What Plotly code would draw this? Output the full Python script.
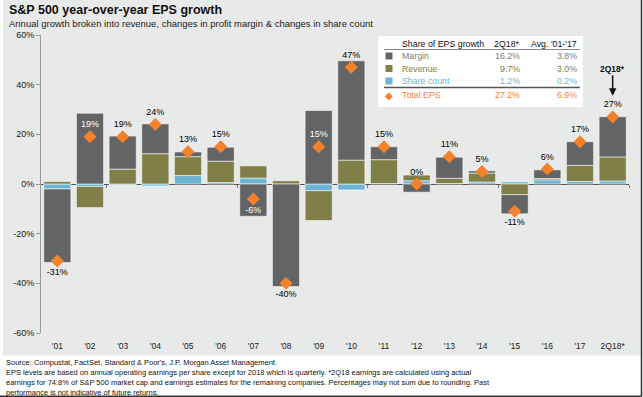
import plotly.graph_objects as go

# ---------------- data ----------------
years = ["'01", "'02", "'03", "'04", "'05", "'06", "'07", "'08", "'09", "'10",
         "'11", "'12", "'13", "'14", "'15", "'16", "'17", "2Q18*"]
margin = [-29.6, 28.5, 13.3, 12.0, 1.9, 5.6, -13.0, -41.3, 29.6, 40.0,
          5.2, -3.3, 8.5, 0.9, -7.7, 3.5, 9.5, 16.2]
revenue = [1.0, -8.5, 6.0, 12.2, 7.6, 8.6, 4.9, 1.3, -12.0, 9.6,
           9.6, 2.3, 2.1, 3.6, -4.3, 0.5, 6.5, 9.7]
share_count = [-2.0, -1.0, -0.3, -0.8, 3.4, 0.6, 2.4, 0.0, -2.7, -2.4,
               0.2, 1.3, 0.2, 0.8, 0.9, 1.7, 1.0, 1.2]
total_eps = [-31, 19, 19, 24, 13, 15, -6, -40, 15, 47,
             15, 0, 11, 5, -11, 6, 17, 27]

table_rows = ["Margin", "Revenue", "Share count", "Total EPS"]
table_2q18 = ["16.2%", "9.7%", "1.2%", "27.2%"]
table_avg = ["3.8%", "3.0%", "0.2%", "6.9%"]

y_ticks = [-60, -40, -20, 0, 20, 40, 60]

footnotes = [
    "Source: Compustat, FactSet, Standard & Poor's, J.P. Morgan Asset Management.",
    "EPS levels are based on annual operating earnings per share except for 2018 which is quarterly. *2Q18 earnings are calculated using actual",
    "earnings for 74.8% of S&P 500 market cap and earnings estimates for the remaining companies. Percentages may not sum due to rounding. Past",
    "performance is not indicative of future returns.",
]

# ---------------- style ----------------
C_MARGIN = "#636466"
C_REV = "#7f7f47"
C_SHARE = "#6db5d3"
C_TOTAL = "#f5822a"
C_BG = "#e8e9e9"
FONT = "Liberation Sans, Arial, sans-serif"

W, H = 643, 397
L, R, T, B = 41, 14, 35, 64
PW, PH = W - L - R, H - T - B


def fx(px):
    return (px - L) / PW


def fy(py):
    return (H - B - py) / PH


fig = go.Figure()
outline = dict(color="rgba(255,255,255,0.55)", width=1)
for name, vals, col in [("Share count", share_count, C_SHARE),
                        ("Revenue", revenue, C_REV),
                        ("Margin", margin, C_MARGIN)]:
    fig.add_trace(go.Bar(x=years, y=vals, name=name, marker_color=col,
                         marker_line=outline, showlegend=False))

# label colours: white when the label sits inside a tall bar
pos_top = []
neg_bot = []
for m, r, s in zip(margin, revenue, share_count):
    pos_top.append(sum(v for v in (m, r, s) if v > 0))
    neg_bot.append(sum(v for v in (m, r, s) if v < 0))
txt_col = []
txt_pos = []
for t, pt, nb in zip(total_eps, pos_top, neg_bot):
    if t >= 0:
        txt_pos.append("top center")
        txt_col.append("white" if pt - t > 4 else "black")
    else:
        txt_pos.append("bottom center")
        txt_col.append("white" if t - nb > 4 else "black")

fig.add_trace(go.Scatter(
    x=years, y=total_eps, mode="markers+text",
    marker=dict(symbol="diamond", size=10, color=C_TOTAL),
    text=[f"{v}%" for v in total_eps], textposition=txt_pos,
    textfont=dict(family=FONT, size=9, color=txt_col),
    showlegend=False, cliponaxis=False))

shapes = []
annotations = []

# gray background + frame
shapes.append(dict(type="rect", xref="paper", yref="paper", layer="below",
                   x0=fx(3), x1=fx(641), y0=fy(355.5), y1=fy(0),
                   fillcolor=C_BG, line_width=0))
shapes.append(dict(type="line", xref="paper", yref="paper",
                   x0=fx(641.5), x1=fx(641.5), y0=fy(0), y1=fy(396.5),
                   line=dict(color="#333", width=1.5)))
shapes.append(dict(type="line", xref="paper", yref="paper",
                   x0=fx(0), x1=fx(641.5), y0=fy(396.2), y1=fy(396.2),
                   line=dict(color="#333", width=1.5)))

# title
annotations.append(dict(text="<b>S&P 500 year-over-year EPS growth</b>", xref="paper", yref="paper",
                        x=fx(7), y=fy(10), xanchor="left", yanchor="middle", showarrow=False,
                        font=dict(family=FONT, size=12.5, color="#111")))
annotations.append(dict(text="Annual growth broken into revenue, changes in profit margin & changes in share count",
                        xref="paper", yref="paper", x=fx(7), y=fy(23), xanchor="left", yanchor="middle",
                        showarrow=False, font=dict(family=FONT, size=9.5, color="#222")))

# legend table
shapes.append(dict(type="rect", xref="paper", yref="paper", x0=fx(378), x1=fx(583),
                   y0=fy(107), y1=fy(36), fillcolor="white", line_width=0))
shapes.append(dict(type="line", xref="paper", yref="paper", x0=fx(384), x1=fx(580),
                   y0=fy(49.5), y1=fy(49.5), line=dict(color="#888", width=1)))
shapes.append(dict(type="line", xref="paper", yref="paper", x0=fx(384), x1=fx(580),
                   y0=fy(87.5), y1=fy(87.5), line=dict(color="#555", width=1.5)))
row_y = [56, 68.5, 81, 95.5]
row_col = ["#7a7a7a", C_REV, C_SHARE, C_TOTAL]
fsz = 8.8
annotations.append(dict(text="Share of EPS growth", xref="paper", yref="paper", x=fx(400), y=fy(44),
                        xanchor="left", yanchor="middle", showarrow=False,
                        font=dict(family=FONT, size=fsz, color="#111")))
annotations.append(dict(text="2Q18*", xref="paper", yref="paper", x=fx(522), y=fy(44),
                        xanchor="right", yanchor="middle", showarrow=False,
                        font=dict(family=FONT, size=fsz, color="#111")))
annotations.append(dict(text="Avg. '01-'17", xref="paper", yref="paper", x=fx(579), y=fy(44),
                        xanchor="right", yanchor="middle", showarrow=False,
                        font=dict(family=FONT, size=fsz, color="#111")))
for i, (lab, v1, v2) in enumerate(zip(table_rows, table_2q18, table_avg)):
    yy = row_y[i]
    c = row_col[i]
    if i < 3:
        shapes.append(dict(type="rect", xref="paper", yref="paper", x0=fx(385.5), x1=fx(392.5),
                           y0=fy(yy + 3.5), y1=fy(yy - 3.5), fillcolor=[C_MARGIN, C_REV, C_SHARE][i],
                           line_width=0))
    else:
        annotations.append(dict(text="◆", xref="paper", yref="paper", x=fx(389), y=fy(yy),
                                xanchor="center", yanchor="middle", showarrow=False,
                                font=dict(family="DejaVu Sans", size=10, color=C_TOTAL)))
    annotations.append(dict(text=lab, xref="paper", yref="paper", x=fx(400), y=fy(yy),
                            xanchor="left", yanchor="middle", showarrow=False,
                            font=dict(family=FONT, size=fsz, color=c)))
    annotations.append(dict(text=v1, xref="paper", yref="paper", x=fx(522), y=fy(yy),
                            xanchor="right", yanchor="middle", showarrow=False,
                            font=dict(family=FONT, size=fsz, color=c)))
    annotations.append(dict(text=v2, xref="paper", yref="paper", x=fx(579), y=fy(yy),
                            xanchor="right", yanchor="middle", showarrow=False,
                            font=dict(family=FONT, size=fsz, color=c)))

# 2Q18 arrow annotation
annotations.append(dict(text="<b>2Q18*</b>", x=years[-1], y=total_eps[-1] + 8.5, xref="x", yref="y",
                        showarrow=True, ax=0, ay=-27, arrowhead=2, arrowsize=1, arrowwidth=1.5,
                        arrowcolor="#111", font=dict(family=FONT, size=8.5, color="#111")))

# footnotes
for i, line in enumerate(footnotes):
    annotations.append(dict(text=line, xref="paper", yref="paper", x=fx(4), y=fy(362.5 + i * 10.0),
                            xanchor="left", yanchor="middle", showarrow=False,
                            font=dict(family=FONT, size=7.5, color="#111")))

fig.update_layout(
    width=W, height=H,
    margin=dict(l=L, r=R, t=T, b=B),
    barmode="relative", bargap=0.17,
    paper_bgcolor="white", plot_bgcolor="rgba(0,0,0,0)",
    font=dict(family=FONT, color="#222"),
    shapes=shapes, annotations=annotations,
    xaxis=dict(range=[-0.5, len(years) - 0.5], autorange=False,
               showgrid=False, showline=False, ticks="outside", ticklen=5,
               tickcolor="rgba(0,0,0,0)", tickfont=dict(family=FONT, size=8.5, color="#222"),
               fixedrange=True),
    xaxis2=dict(overlaying="x", anchor="free", position=0.5, side="bottom",
                range=[0, len(years)], autorange=False,
                tickvals=list(range(2, len(years) + 1, 4)),
                ticks="outside", ticklen=3, tickcolor="#777", showticklabels=False,
                showgrid=False, showline=False, zeroline=False),
    yaxis=dict(range=[-60, 60], autorange=False, tickvals=y_ticks,
               ticktext=[f"{v}%" for v in y_ticks], showgrid=False,
               showline=True, linecolor="#999", linewidth=1, ticks="outside", ticklen=4,
               tickcolor="#999", zeroline=True, zerolinecolor="#555", zerolinewidth=1,
               tickfont=dict(family=FONT, size=9, color="#222"), layer="above traces"),
)
# dummy trace for xaxis2 so it is drawn
fig.add_trace(go.Scatter(x=[0, len(years)], y=[0, 0], xaxis="x2", mode="lines",
                         line=dict(width=0), hoverinfo="skip", showlegend=False))

fig.write_html("out.html", config={"displayModeBar": False},
               post_script="document.body.style.margin='0';document.body.style.overflow='hidden';")
